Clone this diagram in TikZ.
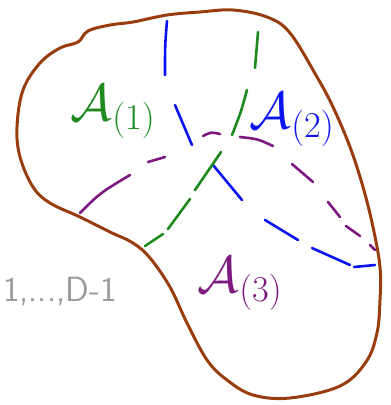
\RequirePackage{fix-cm}
\documentclass[tikz,border=0pt]{standalone}
\usepackage{amsmath}
\usepackage{amssymb}
\usepackage{tikz}
\usetikzlibrary{positioning, calc}
\definecolor{outline}{HTML}{993D0F}
\definecolor{cutgreen}{HTML}{1E8A1E}
\definecolor{cutblue}{HTML}{0A14F0}
\definecolor{cutpurple}{HTML}{7D1A80}
\definecolor{softgray}{HTML}{9A9A9A}
\tikzset{
  boundary/.style={draw=outline, line width=3pt, line join=round},
  cut/.style={line width=2.6pt, line cap=round},
  region/.style={inner sep=0pt, font=\fontsize{52}{52}\selectfont},
  dims/.style={inner sep=0pt, text=softgray, font=\fontsize{35}{35}\selectfont\sffamily},
}

\begin{document}
\begin{tikzpicture}[x=1pt, y=-1pt]

  \useasboundingbox (0,0) rectangle (391,405);

  % the blob
  \draw[boundary] plot[smooth cycle, tension=0.6] coordinates {
    (78,42) (88,31) (110,25) (133,22) (167,15) (200,12) (233,10) (267,17)
    (290,33) (317,77) (333,107) (350,147) (363,187) (373,227) (380,267)
    (380,300) (377,333) (366,362) (340,386) (290,398) (253,395) (227,380)
    (207,360) (187,323) (170,287) (150,258) (133,243) (110,232) (80,217)
    (50,203) (33,187) (20,157) (17,127) (23,90) (40,63) (60,48)};

  % blue cut
  \draw[cut, cutblue] (167,21) .. controls (165,45) .. (165,75);
  \draw[cut, cutblue] (175,105) -- (192,145);
  \draw[cut, cutblue] (213,165) -- (242,200);
  \draw[cut, cutblue] (265,220) -- (298,240);
  \draw[cut, cutblue] (312,248) -- (350,265);
  \draw[cut, cutblue] (354,267) -- (375,265);

  % green cut
  \draw[cut, cutgreen] (258,32) -- (255,68);
  \draw[cut, cutgreen] (247,90) .. controls (241,112) .. (232,135);
  \draw[cut, cutgreen] (221,152) -- (195,190);
  \draw[cut, cutgreen] (190,199) -- (168,229);
  \draw[cut, cutgreen] (163,234) -- (145,246);

  % purple cut
  \draw[cut, cutpurple] (80,213) .. controls (100,193) .. (130,175);
  \draw[cut, cutpurple] (148,162) -- (165,157);
  \draw[cut, cutpurple] (203,136) .. controls (211,132) .. (220,134);
  \draw[cut, cutpurple] (240,137) .. controls (258,139) .. (273,146);
  \draw[cut, cutpurple] (292,164) -- (313,182);
  \draw[cut, cutpurple] (328,202) -- (340,217);
  \draw[cut, cutpurple] (346,226) -- (360,236);
  \draw[cut, cutpurple] (370,245) -- (375,250);

  % labels
  \node[region, text=cutgreen] (a1) at (113,112) {$\mathcal{A}_{(1)}$};
  \node[region, text=cutblue] (a2) at (292,120) {$\mathcal{A}_{(2)}$};
  \node[region, text=cutpurple] (a3) at (240,284) {$\mathcal{A}_{(3)}$};
  \node[dims, anchor=west] (range) at (3,292) {1,...,D-1};

\end{tikzpicture}
\end{document}
